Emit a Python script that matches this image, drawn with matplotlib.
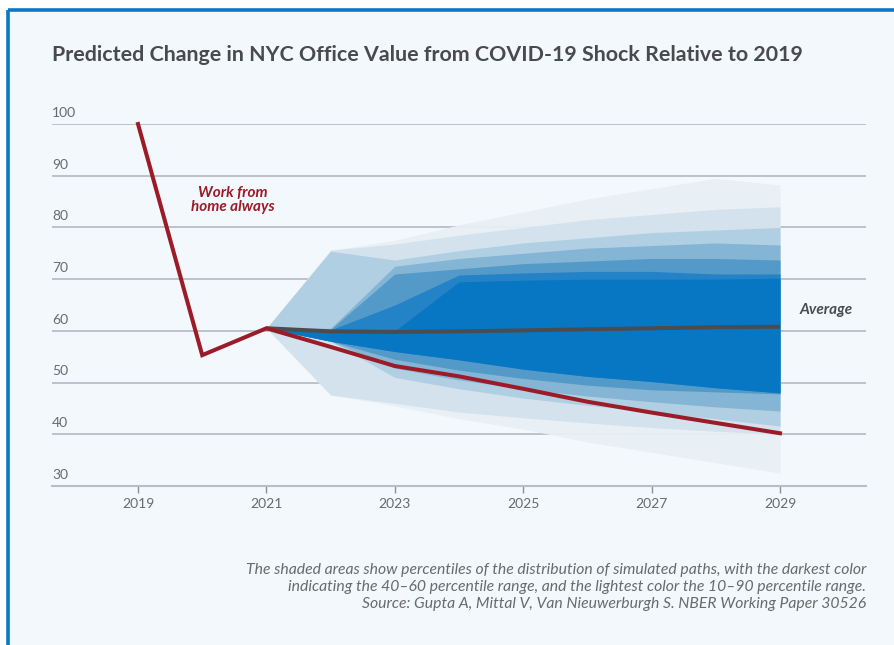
import matplotlib
matplotlib.use("Agg")
import matplotlib.pyplot as plt
from matplotlib.patches import Rectangle
from matplotlib.lines import Line2D

# ---------------- data ----------------
hist_years = [2019, 2020, 2021]
wfh_hist = [100, 55.3, 60.5]

proj_years = [2021, 2022, 2023, 2024, 2025, 2026, 2027, 2028, 2029]
wfh_always = [60.5, 56.9, 53.2, 51.2, 48.8, 46.3, 44.2, 42.2, 40.2]
average = [60.5, 59.9, 59.8, 59.9, 60.1, 60.3, 60.5, 60.7, 60.8]

# percentile bands, outermost first (upper / lower per projection year)
band_upper = [
    [60.5, 75.6, 77.5, 80.5, 83.0, 85.5, 87.5, 89.5, 88.2],
    [60.5, 75.6, 76.8, 78.5, 80.0, 81.5, 82.5, 83.5, 84.0],
    [60.5, 75.4, 73.7, 75.5, 77.0, 78.0, 79.0, 79.5, 80.0],
    [60.5, 60.5, 72.5, 74.0, 75.0, 76.0, 76.5, 77.0, 76.6],
    [60.5, 60.3, 71.0, 72.0, 73.0, 73.5, 74.0, 74.0, 73.7],
    [60.5, 60.2, 65.0, 70.8, 71.2, 71.5, 71.5, 71.0, 71.0],
    [60.5, 60.0, 60.0, 69.5, 69.8, 70.0, 70.0, 70.0, 70.2],
]
band_lower = [
    [60.5, 47.6, 45.5, 43.0, 41.0, 38.5, 36.5, 34.5, 32.5],
    [60.5, 47.6, 46.0, 44.3, 43.2, 42.2, 41.3, 40.6, 40.0],
    [60.5, 58.0, 51.0, 48.8, 47.0, 45.6, 44.3, 43.0, 41.6],
    [60.5, 58.0, 52.8, 50.5, 48.8, 47.4, 46.3, 45.3, 44.5],
    [60.5, 58.0, 54.5, 52.4, 50.8, 49.5, 48.6, 48.2, 47.8],
    [60.5, 58.0, 56.0, 54.4, 52.6, 51.2, 50.2, 49.0, 48.0],
    [60.5, 58.0, 56.0, 54.4, 52.6, 51.2, 50.2, 49.0, 48.0],
]
band_colors = ["#e8eff5", "#d2e2ec", "#b0cee2", "#82b4d4", "#5299c9", "#2282c6", "#0677c3"]

y_ticks = [30, 40, 50, 60, 70, 80, 90, 100]
x_ticks = [2019, 2021, 2023, 2025, 2027, 2029]

title = "Predicted Change in NYC Office Value from COVID-19 Shock Relative to 2019"
note_lines = [
    "The shaded areas show percentiles of the distribution of simulated paths, with the darkest color",
    "indicating the 40\u201360 percentile range, and the lightest color the 10\u201390 percentile range.",
    "Source: Gupta A, Mittal V, Van Nieuwerburgh S. NBER Working Paper 30526",
]

# ---------------- figure ----------------
W, H = 895, 645
fig = plt.figure(figsize=(W / 100, H / 100), dpi=100)
fig.patch.set_facecolor("white")
bg = "#f3f8fc"
# panel with blue border on top/left
fig.patches.append(Rectangle((8 / W, 0), 1, 1 - 10 / H, transform=fig.transFigure,
                             facecolor=bg, edgecolor="none", zorder=-10))
fig.add_artist(Line2D([8 / W, 1], [1 - 10 / H, 1 - 10 / H], transform=fig.transFigure,
                      color="#0a78c6", lw=2.6, solid_capstyle="butt"))
fig.add_artist(Line2D([8 / W, 8 / W], [0, 1 - 10 / H], transform=fig.transFigure,
                      color="#0a78c6", lw=2.6, solid_capstyle="butt"))

fam = ["Lato", "DejaVu Sans"]
ax = fig.add_axes([52 / W, (H - 486) / H, (866 - 52) / W, (486 - 124) / H])
ax.set_facecolor("none")
ax.set_xlim(2017.66, 2030.34)
ax.set_ylim(30, 100)

grid_c = "#b9bec5"
for v in y_ticks[1:]:
    ax.axhline(v, color=grid_c, lw=1.3, zorder=1)
for s in ["top", "right", "left"]:
    ax.spines[s].set_visible(False)
ax.spines["bottom"].set_color(grid_c)
ax.spines["bottom"].set_linewidth(1.5)

ax.set_yticks([])
ax.set_xticks(x_ticks)
ax.set_xticklabels([str(x) for x in x_ticks], family=fam, fontsize=10, color="#6a6a6a")
ax.tick_params(axis="x", length=5, width=1, color="#8a8f96", pad=4)

for v in y_ticks:
    ax.text(0.0, v + 1.0, str(v), transform=ax.get_yaxis_transform(),
            ha="left", va="bottom", fontsize=10, color="#6a6a6a", family=fam)

# fan bands
for up, lo, c in zip(band_upper, band_lower, band_colors):
    ax.fill_between(proj_years, lo, up, color=c, lw=0, zorder=2, alpha=0.95)

ax.plot(proj_years, average, color="#4b4c4f", lw=2.9, zorder=4, solid_capstyle="butt")
ax.plot(hist_years + proj_years[1:], wfh_hist + wfh_always[1:], color="#9c1b28", lw=2.9,
        zorder=5, clip_on=False, solid_joinstyle="miter")

ax.text(2020.48, 85.3, "Work from\nhome always", ha="center", va="center", color="#9c1b28",
        fontsize=11, style="italic", weight="bold", family=fam, linespacing=1.0)
ax.text(2029.72, 64, "Average", ha="center", va="center", color="#4b4c4f",
        fontsize=11, style="italic", weight="bold", family=fam)

fig.text(52 / W, 1 - 55 / H, title, ha="left", va="center", fontsize=15.4, weight="bold",
         color="#4a4a4c", family=fam)

for i, line in enumerate(note_lines):
    fig.text(866 / W, 1 - (570 + 17 * i) / H, line, ha="right", va="center", fontsize=11.3,
             style="italic", color="#6a6a6a", family=fam)

fig.savefig("out.png", dpi=100, facecolor=fig.get_facecolor())
